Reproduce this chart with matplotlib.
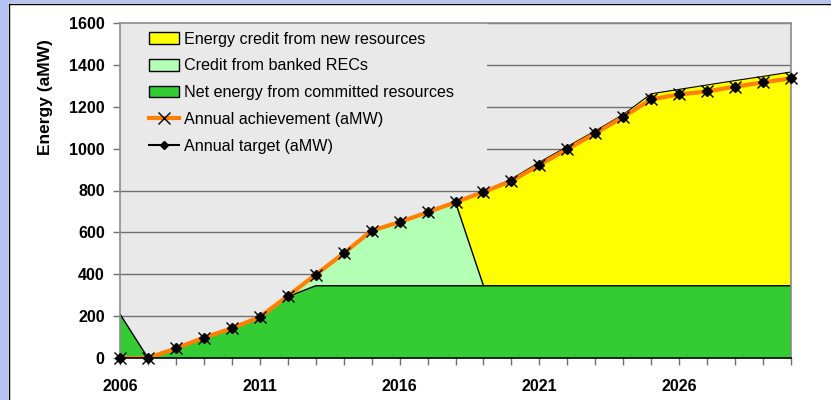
#!/usr/bin/env python3
# -*- coding: utf-8 -*-

import matplotlib
matplotlib.use('Agg')
import matplotlib.pyplot as plt
from matplotlib.patches import Rectangle, Patch
from matplotlib.lines import Line2D

plt.rcParams['font.family'] = ['Liberation Sans', 'DejaVu Sans']

# годы
years = list(range(2006, 2031))

# годовое достижение (aMW)
achievement = [0, 0, 46, 97, 142, 196, 296, 398, 500, 608, 649, 696, 744,
               793, 845, 922, 998, 1073, 1152, 1235, 1259, 1273, 1296, 1316, 1336]

# годовая цель (aMW)
target = [0, 0, 46, 97, 142, 196, 296, 398, 500, 608, 649, 696, 744,
          793, 845, 922, 998, 1073, 1152, 1235, 1259, 1273, 1296, 1316, 1336]

# слои площадей
committed = [210, 0, 46, 97, 142, 196, 293, 345, 345, 345, 345, 345, 345,
             345, 345, 345, 345, 345, 345, 345, 345, 345, 345, 345, 345]
banked = [0, 0, 0, 0, 0, 0, 3, 53, 155, 263, 304, 351, 399,
          0, 0, 0, 0, 0, 0, 0, 0, 0, 0, 0, 0]
new_res = [0, 0, 0, 0, 0, 0, 0, 0, 0, 0, 0, 0, 0,
           450, 510, 590, 665, 740, 818, 917, 938, 959, 980, 1000, 1021]

yticks = [0, 200, 400, 600, 800, 1000, 1200, 1400, 1600]

c_new = '#FFFF00'
c_bank = '#B3FFB3'
c_comm = '#33CC33'
c_orange = '#FF8000'
c_bg = '#E9E9E9'

fig = plt.figure(figsize=(8.31, 4.0), dpi=100)
fig.patch.set_facecolor('white')

# рамка слайда
fig.patches.append(Rectangle((0, 0), 8 / 831, 1, transform=fig.transFigure,
                             facecolor='#B4C2F4', edgecolor='none', zorder=0))
fig.patches.append(Rectangle((0, 397 / 400), 1, 3 / 400, transform=fig.transFigure,
                             facecolor='#B4C2F4', edgecolor='none', zorder=0))
fig.add_artist(Line2D([8.5 / 831, 8.5 / 831], [0, 396.5 / 400], color='black', lw=1))
fig.add_artist(Line2D([8.5 / 831, 1], [396.5 / 400, 396.5 / 400], color='black', lw=1))

ax = fig.add_axes([120 / 831, 42 / 400, 671 / 831, 335 / 400])
ax.set_facecolor(c_bg)

lev1 = [c for c in committed]
lev2 = [a + b for a, b in zip(lev1, banked)]
lev3 = [a + b for a, b in zip(lev2, new_res)]

ax.fill_between(years, 0, lev1, facecolor=c_comm, edgecolor='none', zorder=2)
ax.fill_between(years, lev1, lev2, facecolor=c_bank, edgecolor='none', zorder=2)
ax.fill_between(years, lev2, lev3, facecolor=c_new, edgecolor='none', zorder=2)
ax.plot(years, lev1, color='black', lw=1, zorder=2.5)
ax.plot(years[6:], lev3[6:], color='black', lw=0.8, zorder=2.5)
ax.plot([2018, 2019], [lev2[12], lev2[13]], color='black', lw=1, zorder=2.5)
ax.plot([2030, 2030], [0, lev1[-1]], color='#229922', lw=1.2, zorder=2.5)
ax.plot([2030, 2030], [lev1[-1], lev3[-1]], color='black', lw=1, zorder=2.5)

ax.plot(years, target, color='black', lw=1, zorder=3)
ax.plot(years, achievement, color=c_orange, lw=3, zorder=4, solid_capstyle='butt')
ax.plot(years, target, linestyle='none', marker='D', ms=5, color='black',
        zorder=5, clip_on=False)
ax.plot(years, achievement, linestyle='none', marker='x', ms=8, mew=1,
        color='black', zorder=6, clip_on=False)

ax.set_xlim(2006, 2030)
ax.set_ylim(0, 1600)
ax.set_yticks(yticks)
ax.set_yticklabels([str(v) for v in yticks], fontweight='bold', fontsize=11.5)
ax.set_xticks(years)
ax.set_xticklabels([str(y) if (y - 2006) % 5 == 0 else '' for y in years],
                   fontweight='bold', fontsize=11.5)
ax.tick_params(axis='y', length=5, width=1, color='#707070', pad=6)
ax.tick_params(axis='x', length=5, width=1, color='#707070', pad=10)

ax.grid(axis='y', color='#707070', lw=1)
ax.set_axisbelow(True)
for s in ['left', 'top', 'right']:
    ax.spines[s].set_color('#8C8C8C')
    ax.spines[s].set_linewidth(1.2)
ax.spines['bottom'].set_color('black')
ax.spines['bottom'].set_linewidth(1.2)
ax.spines['bottom'].set_zorder(7)

ax.set_ylabel('Energy (aMW)', fontweight='bold', fontsize=12.5)
ax.yaxis.set_label_coords(-0.1, 0.779)

# фон легенды закрывает сетку
ax.add_patch(Rectangle((0, 0.56), 0.547, 0.44, transform=ax.transAxes,
                       facecolor=c_bg, edgecolor='none', zorder=1))

handles = [
    Patch(facecolor=c_new, edgecolor='black', lw=1),
    Patch(facecolor=c_bank, edgecolor='black', lw=1),
    Patch(facecolor=c_comm, edgecolor='black', lw=1),
    Line2D([0], [0], color=c_orange, lw=3, marker='x', mec='black', ms=8, mew=1),
    Line2D([0], [0], color='black', lw=1.5, marker='D', mfc='black', mec='black', ms=4),
]
labels = ['Energy credit from new resources', 'Credit from banked RECs',
          'Net energy from committed resources', 'Annual achievement (aMW)',
          'Annual target (aMW)']
leg = ax.legend(handles, labels, loc='upper left', bbox_to_anchor=(0.032, 0.996),
                fontsize=11.6, frameon=False, handlelength=1.85, handleheight=0.75,
                handletextpad=0.35, labelspacing=0.73, borderpad=0.45,
                borderaxespad=0.0)
leg.set_zorder(8)

fig.savefig('out.png', dpi=100)
